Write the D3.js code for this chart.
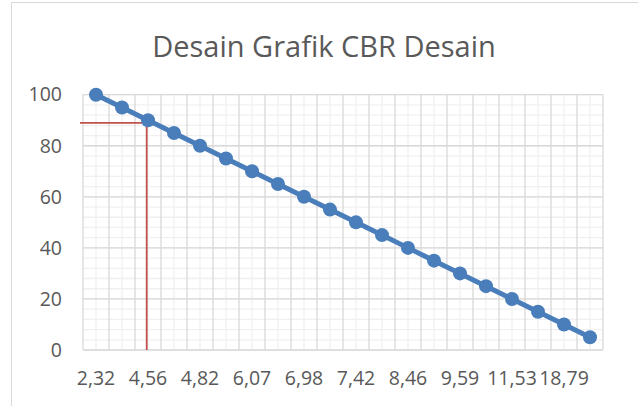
<!DOCTYPE html>
<html>
<head>
<meta charset="utf-8">
<script src="https://cdn.jsdelivr.net/npm/d3@7"></script>
<style>
  body { margin: 0; background: #fff; }
  svg { display: block; }
  .tick text { font-family: "Open Sans", sans-serif; font-size: 19.5px; fill: #595959; }
</style>
</head>
<body>
<div id="chart"></div>
<script>
// values
var chartTitle = "Desain Grafik CBR Desain";
var cbrLabels = ["2,32", "4,56", "4,82", "6,07", "6,98", "7,42", "8,46", "9,59", "11,53", "18,79"];
var percentValues = [100, 95, 90, 85, 80, 75, 70, 65, 60, 55, 50, 45, 40, 35, 30, 25, 20, 15, 10, 5];
var yTicks = [0, 20, 40, 60, 80, 100];
var refPoint = { value: 89, index: 1.95 };

var width = 638, height = 406;
var plot = { left: 83, right: 603, top: 94.7, bottom: 350 };

var svg = d3.select("#chart").append("svg")
    .attr("width", width)
    .attr("height", height);

// chart frame (runs off the right/bottom of the crop)
svg.append("rect")
    .attr("x", 11.5).attr("y", 2.5)
    .attr("width", 660).attr("height", 420)
    .attr("fill", "#fff")
    .attr("stroke", "#d9d9d9");

var x = d3.scaleBand()
    .domain(percentValues.map(function(d, i) { return i; }))
    .range([plot.left, plot.right]);

var y = d3.scaleLinear()
    .domain([0, 100])
    .range([plot.bottom, plot.top]);

var grid = svg.append("g");

// minor gridlines
grid.selectAll(".hminor")
    .data(d3.range(0, 101, 4))
  .enter().append("line")
    .attr("x1", plot.left).attr("x2", plot.right)
    .attr("y1", function(d) { return y(d); })
    .attr("y2", function(d) { return y(d); })
    .attr("stroke", "#f0f0f0").attr("stroke-width", 1.3);

grid.selectAll(".vminor")
    .data(x.domain())
  .enter().append("line")
    .attr("x1", function(d) { return x(d) + x.bandwidth() / 2; })
    .attr("x2", function(d) { return x(d) + x.bandwidth() / 2; })
    .attr("y1", plot.top).attr("y2", plot.bottom)
    .attr("stroke", "#f0f0f0").attr("stroke-width", 1.3);

// major gridlines
grid.selectAll(".hmajor")
    .data(yTicks)
  .enter().append("line")
    .attr("x1", plot.left).attr("x2", plot.right)
    .attr("y1", function(d) { return y(d); })
    .attr("y2", function(d) { return y(d); })
    .attr("stroke", "#d9d9d9").attr("stroke-width", 1.3);

grid.selectAll(".vmajor")
    .data(x.domain().concat([percentValues.length]))
  .enter().append("line")
    .attr("x1", function(d) { return plot.left + d * x.step(); })
    .attr("x2", function(d) { return plot.left + d * x.step(); })
    .attr("y1", plot.top).attr("y2", plot.bottom)
    .attr("stroke", "#d9d9d9").attr("stroke-width", 1.3);

// axes (labels only)
var yAxis = svg.append("g")
    .attr("transform", "translate(" + plot.left + ",0)")
    .call(d3.axisLeft(y).tickValues(yTicks).tickSize(0).tickPadding(21));
yAxis.select(".domain").remove();

var xAxis = svg.append("g")
    .attr("transform", "translate(0," + plot.bottom + ")")
    .call(d3.axisBottom(x)
      .tickValues(x.domain().filter(function(i) { return i % 2 === 0; }))
      .tickFormat(function(i) { return cbrLabels[i / 2]; })
      .tickSize(0)
      .tickPadding(21));
xAxis.select(".domain").remove();

// title
svg.append("text")
    .attr("x", 324)
    .attr("y", 57)
    .attr("text-anchor", "middle")
    .style("font-family", "'Open Sans', sans-serif")
    .style("font-size", "29px")
    .style("fill", "#595959")
    .text(chartTitle);

// red reading lines
var refX = plot.left + (refPoint.index + 0.5) * x.step();
svg.append("line")
    .attr("x1", plot.left - 3).attr("x2", refX + 4)
    .attr("y1", y(refPoint.value)).attr("y2", y(refPoint.value))
    .attr("stroke", "#c0504d").attr("stroke-width", 1.8);
svg.append("line")
    .attr("x1", refX).attr("x2", refX)
    .attr("y1", y(refPoint.value)).attr("y2", plot.bottom)
    .attr("stroke", "#c0504d").attr("stroke-width", 1.8);

// series
var line = d3.line()
    .x(function(d, i) { return x(i) + x.bandwidth() / 2; })
    .y(function(d) { return y(d); });

svg.append("path")
    .datum(percentValues)
    .attr("d", line)
    .attr("fill", "none")
    .attr("stroke", "#4a7ebb")
    .attr("stroke-width", 5)
    .attr("stroke-linejoin", "round");

svg.selectAll(".marker")
    .data(percentValues)
  .enter().append("circle")
    .attr("cx", function(d, i) { return x(i) + x.bandwidth() / 2; })
    .attr("cy", function(d) { return y(d); })
    .attr("r", 7)
    .attr("fill", "#4a7ebb");
</script>
</body>
</html>
